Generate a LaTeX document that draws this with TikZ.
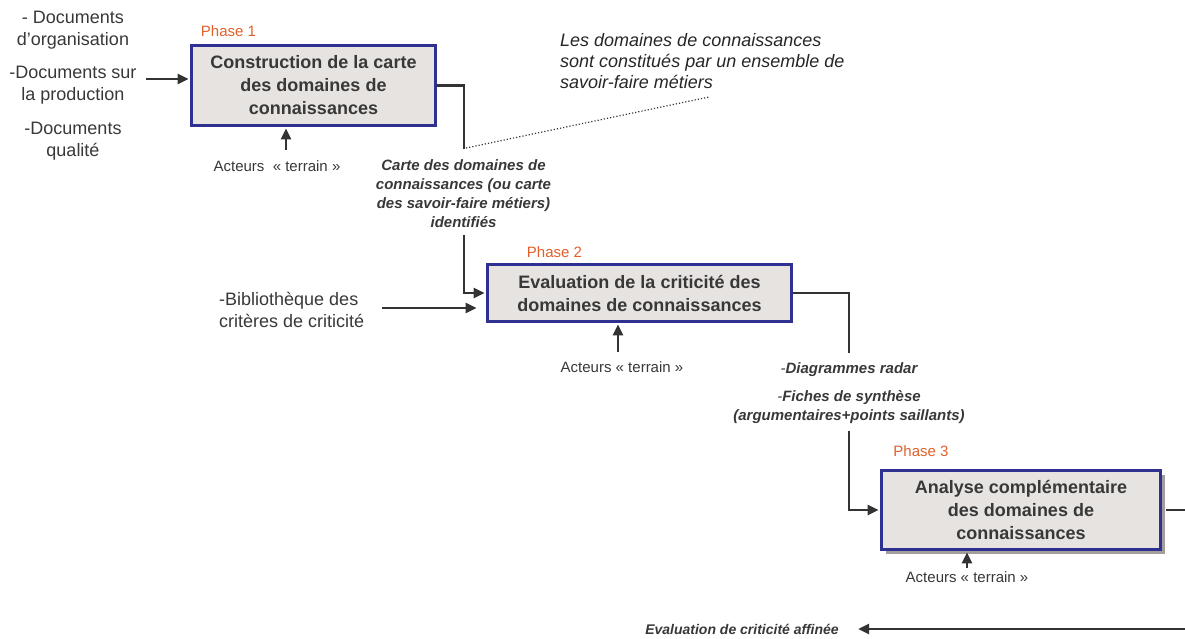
\documentclass[tikz,border=0pt]{standalone}
\usepackage{fontspec}
\setmainfont{Liberation Sans}
\usetikzlibrary{arrows.meta,shadows}
\definecolor{txt}{HTML}{383838}
\definecolor{boxborder}{HTML}{2E3192}
\definecolor{boxfill}{HTML}{E6E3E1}
\definecolor{phasec}{HTML}{E0602A}
\definecolor{linec}{HTML}{333333}
\definecolor{shadowc}{HTML}{A39E9B}
\begin{document}
\begin{tikzpicture}[x=1pt,y=-1pt,
  every node/.style={text=txt, inner sep=0pt},
  phasebox/.style={draw=boxborder, fill=boxfill, line width=3.4pt, align=center,
    font=\fontsize{18}{23}\selectfont\bfseries},
  phaselabel/.style={text=phasec, font=\fontsize{15}{18}\selectfont},
  doc/.style={align=center, font=\fontsize{18}{22}\selectfont},
  actor/.style={font=\fontsize{15}{18}\selectfont},
  outtext/.style={align=center, font=\fontsize{15}{19}\selectfont\bfseries\itshape},
  conn/.style={draw=linec, line width=2.6pt},
  arr/.style={conn, shorten >=1.2pt, -{Triangle[length=11pt,width=10pt]}}]
\useasboundingbox (0,0) rectangle (1185,639);

% Phase 1
\node[phasebox, minimum width=244pt, minimum height=80pt] (box1) at (313.5,85.5)
  {Construction de la carte\\des domaines de\\connaissances};
\node[phaselabel] (ph1) at (228.5,31) {Phase 1};
\node[doc] (docA) at (73,30) {- Documents\\d’organisation};
\node[doc] (docB) at (73,85) {-Documents sur\\la production};
\node[doc] (docC) at (73,141) {-Documents\\qualité};
\coordinate (inA) at (146,79);
\draw[arr] (inA) -- (inA -| box1.west);
\node[actor] (act1) at (277,166) {Acteurs~~«~terrain~»};
\coordinate (a1) at (286,150);
\draw[arr] (a1) -- (a1 |- box1.south);

% output 1
\coordinate (c1) at (464,149);
\draw[conn] (box1.east) -| (c1);
\node[outtext] (carte) at (463.5,194)
  {Carte des domaines de\\connaissances (ou carte\\des savoir-faire métiers)\\identifiés};
\node[anchor=west, align=left, text=black!85, font=\fontsize{18}{21}\selectfont\itshape] (annot) at (560,61)
  {Les domaines de connaissances\\sont constitués par un ensemble de\\savoir-faire métiers};
\coordinate (dotA) at (466,148);
\coordinate (dotB) at (709,97);
\draw[linec, dotted, line width=1.2pt] (dotA) -- (dotB);

% Phase 2
\node[phasebox, minimum width=304pt, minimum height=57pt] (box2) at (639.5,293)
  {Evaluation de la criticité des\\domaines de connaissances};
\node[phaselabel] (ph2) at (554.5,252) {Phase 2};
\coordinate (c2) at (464,235);
\draw[arr] (c2) |- (box2.west);
\node[doc, align=left, anchor=west] (bib) at (219,310) {-Bibliothèque des\\critères de criticité};
\coordinate (b1) at (382,308);
\draw[arr] (b1) -- ([xshift=-8pt]b1 -| box2.west);
\node[actor] (act2) at (622,367) {Acteurs~«~terrain~»};
\coordinate (a2) at (618,352);
\draw[arr] (a2) -- (a2 |- box2.south);

% output 2
\coordinate (c3) at (849,353);
\draw[conn] (box2.east) -| (c3);
\node[outtext] (diag1) at (849,370) {{\mdseries-}Diagrammes radar};
\node[outtext] (diag2) at (849,407.5) {{\mdseries-}Fiches de synthèse\\(argumentaires+points saillants)};
\coordinate (c4) at (849,431);

% Phase 3
\node[phasebox, minimum width=279pt, minimum height=79pt,
  drop shadow={shadow xshift=4.5pt, shadow yshift=-4.5pt, fill=shadowc, opacity=1}] (box3) at (1021,510)
  {Analyse complémentaire\\des domaines de\\connaissances};
\node[phaselabel] (ph3) at (921,451) {Phase 3};
\draw[arr] (c4) |- (box3.west);
\node[actor] (act3) at (967,577) {Acteurs~«~terrain~»};
\coordinate (a3) at (967,568);
\draw[arr] (a3) -- (a3 |- box3.south);

% output 3
\coordinate (e0) at (1185,510);
\draw[conn] ([xshift=4pt]box3.east) -- (e0);
\coordinate (e1) at (1185,629);
\node[font=\fontsize{14}{17}\selectfont\bfseries\itshape] (final) at (742,629) {Evaluation de criticité affinée};
\draw[arr] (e1) -- ([xshift=18pt]final.east);
\end{tikzpicture}
\end{document}
